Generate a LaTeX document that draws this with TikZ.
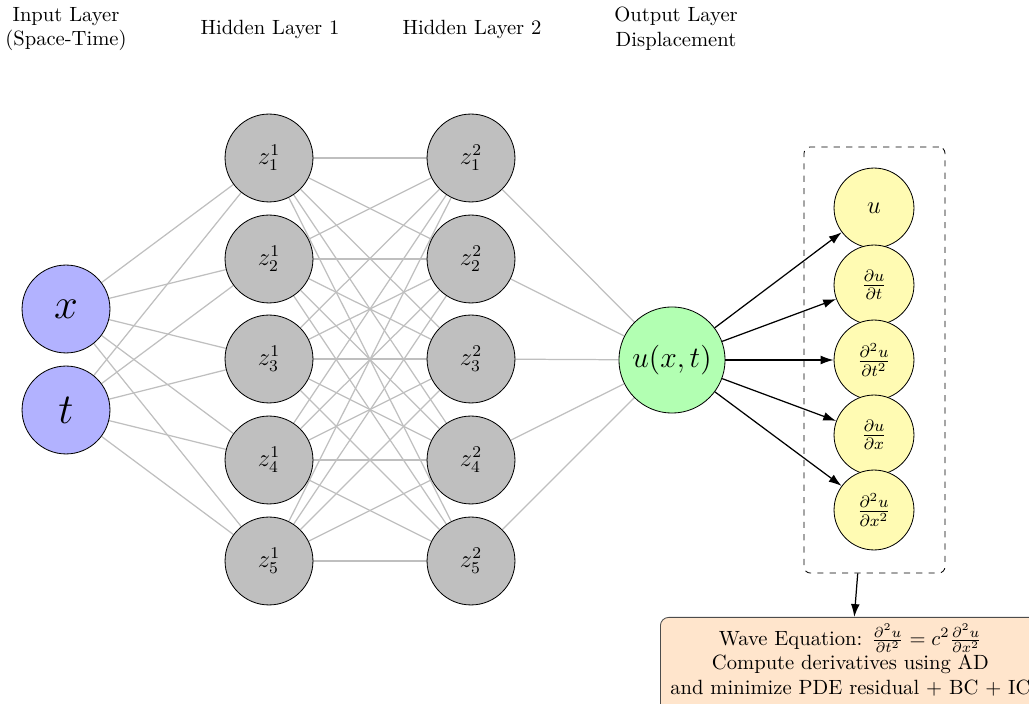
\documentclass[tikz,border=0pt]{standalone}
\usetikzlibrary{arrows.meta,backgrounds}
\begin{document}
\begin{tikzpicture}[x=0.4854pt,y=-0.4854pt,
  neuron/.style={circle,draw=black,minimum size=1.5cm,inner sep=0pt},
  inp/.style={neuron,fill=blue!30,font=\huge},
  hid/.style={neuron,fill=gray!50,font=\large},
  outp/.style={neuron,fill=green!30,minimum size=51.5pt,font=\Large},
  der/.style={neuron,fill=yellow!30,minimum size=38.8pt,font=\large},
  conn/.style={gray!50,line width=0.6pt},
  arr/.style={-{Latex[length=2.2mm,width=1.5mm]},semithick},
  lbl/.style={align=center}]
\clip (0,0) rectangle (1029,704);
% layer labels
\node[lbl] (l0) at (66,29) {Input Layer\\(Space-Time)};
\node[lbl] (l1) at (270,29) {Hidden Layer 1};
\node[lbl] (l2) at (472,29) {Hidden Layer 2};
\node[lbl] (l3) at (676,29) {Output Layer\\Displacement};
% input
\node[inp] (x) at (66,309) {$x$};
\node[inp] (t) at (66,410) {$t$};
% hidden layers
\foreach \j/\y in {1/158,2/259,3/359,4/460,5/561}{
  \node[hid] (h1\j) at (269,\y) {$z^{1}_{\j}$};
  \node[hid] (h2\j) at (471,\y) {$z^{2}_{\j}$};
}
% output
\node[outp] (out) at (672,360) {$u(x,t)$};
% derivative nodes
\node[der] (d1) at (874,208) {$u$};
\node[der] (d2) at (874,285) {$\frac{\partial u}{\partial t}$};
\node[der] (d3) at (874,360) {$\frac{\partial^2 u}{\partial t^2}$};
\node[der] (d4) at (874,435) {$\frac{\partial u}{\partial x}$};
\node[der] (d5) at (874,510) {$\frac{\partial^2 u}{\partial x^2}$};
\node[draw=black,dashed,rounded corners=3pt,minimum width=68.4pt,minimum height=206.8pt,inner sep=0pt] (derivbox) at (874.5,360) {};
% wave equation box
\node[draw=black!70,fill=orange!20,rounded corners=4pt,align=center,anchor=north west,
      minimum width=184.5pt] (wave) at (660,617)
  {Wave Equation: $\frac{\partial^2 u}{\partial t^2} = c^2 \frac{\partial^2 u}{\partial x^2}$\\Compute derivatives using AD\\and minimize PDE residual + BC + IC\\[-6pt]\mbox{}};
% connections
\begin{scope}[on background layer]
  \foreach \i in {x,t}{\foreach \j in {1,...,5}{\draw[conn] (\i) -- (h1\j);}}
  \foreach \i in {1,...,5}{\foreach \j in {1,...,5}{\draw[conn] (h1\i) -- (h2\j);}}
  \foreach \i in {1,...,5}{\draw[conn] (h2\i) -- (out);}
\end{scope}
\foreach \j in {1,...,5}{\draw[arr] (out) -- (d\j);}
\draw[arr] (derivbox) -- (wave);
\end{tikzpicture}
\end{document}
